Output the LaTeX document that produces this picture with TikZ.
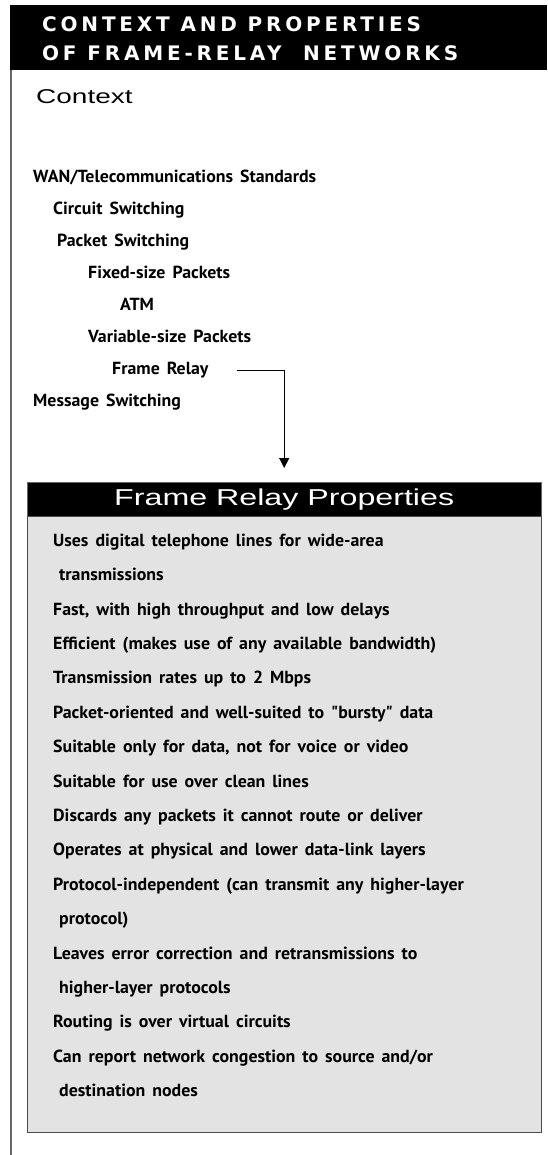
\documentclass[tikz,border=0pt]{standalone}
\usepackage{fontspec}
\setmainfont{PT Sans}[FakeStretch=1.02, Ligatures=TeXOff]
\newfontfamily\arialfont{Liberation Sans}[FakeStretch=1.4]
\newfontfamily\titlefont{DejaVu Sans}[LetterSpace=19]
\newcommand\widewords{\spaceskip=0.4em plus 0.1em\relax}
\usepackage{tikz}
\usetikzlibrary{arrows.meta, positioning}

\begin{document}
\begin{tikzpicture}[x=1pt,y=-1pt]

\tikzstyle{entry}=[anchor=west,inner sep=0,text height=12pt,text depth=3.5pt,font=\bfseries\fontsize{17.5}{17.5}\selectfont\widewords]
\tikzstyle{item}=[entry]
\tikzstyle{line}=[draw, line width=0.8pt, -{Triangle[width=10pt,length=10pt]}]

\useasboundingbox (0,0) rectangle (547,1155);

% banner at the top
\node (banner) [fill=black,anchor=north west,minimum width=537pt,minimum height=65pt,inner sep=0] at (10,5) {};
\node (title) [anchor=west,inner sep=0,text=white,align=left,font=\titlefont\bfseries\fontsize{20}{29}\selectfont] at (42,38.5) {CONTEXT AND PROPERTIES\\OF FRAME-RELAY\ \ NETWORKS};
\draw[line width=2pt, black!60] ([xshift=1pt]banner.south west) -- ++(0,1085);

\node (context) [anchor=west,inner sep=0,font=\arialfont\fontsize{20}{20}\selectfont] at (36,97) {Context};

% the tree
\node (wan) [entry] at (33,178) {WAN/Telecommunications Standards};
\node (circuit) [entry] at (53,210) {Circuit Switching};
\node (packet) [entry] at (57,242) {Packet Switching};
\node (fixed) [entry] at (88,274) {Fixed-size Packets};
\node (atm) [entry] at (120,306) {ATM};
\node (variable) [entry] at (88,338) {Variable-size Packets};
\node (frame) [entry] at (112,370) {Frame Relay};
\node (message) [entry] at (33,402) {Message Switching};

% properties box
\node (head) [fill=black,draw=black!60,minimum width=514pt,minimum height=34pt,anchor=north west,inner sep=0,text=white,font=\arialfont\fontsize{23}{23}\selectfont] at (27,482) {Frame Relay Properties};
\node (body) [fill=black!11,draw=black!70,line width=0.8pt,minimum width=514pt,minimum height=616pt,inner sep=0,below=0pt of head] {};

\foreach \txt [count=\i] in {
  {Uses digital telephone lines for wide-area},
  {\kern6pt transmissions},
  {Fast, with high throughput and low delays},
  {Efficient (makes use of any available bandwidth)},
  {Transmission rates up to 2 Mbps},
  {Packet-oriented and well-suited to "bursty" data},
  {Suitable only for data, not for voice or video},
  {Suitable for use over clean lines},
  {Discards any packets it cannot route or deliver},
  {Operates at physical and lower data-link layers},
  {Protocol-independent (can transmit any higher-layer},
  {\kern6pt protocol)},
  {Leaves error correction and retransmissions to},
  {\kern6pt higher-layer protocols},
  {Routing is over virtual circuits},
  {Can report network congestion to source and/or},
  {\kern6pt destination nodes}}
  \node (p\i) [item] at (53,{542+34.4*(\i-1)}) {\txt};

\draw[line] ([xshift=28pt]frame.east) -| ([yshift=14pt]head.north);

\end{tikzpicture}
\end{document}
